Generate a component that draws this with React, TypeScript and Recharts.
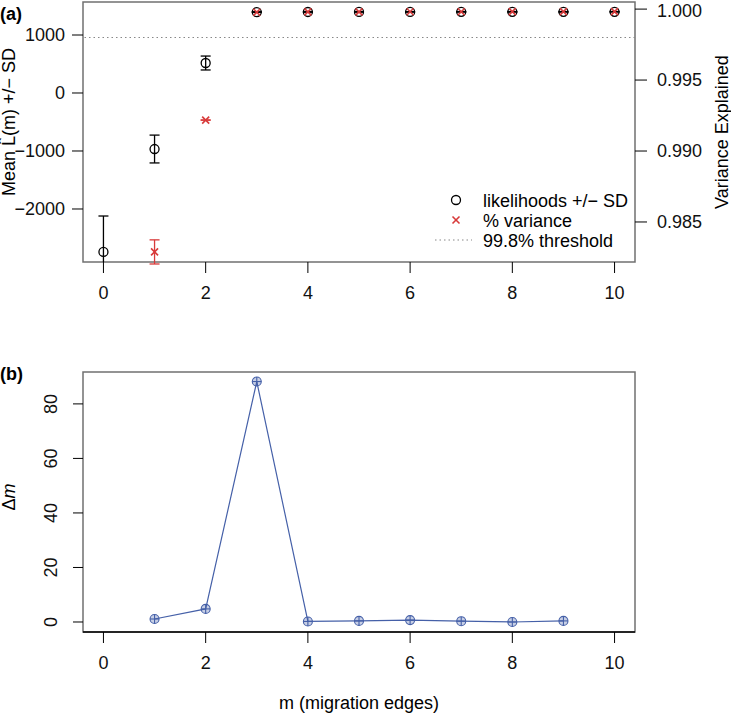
import { ComposedChart, LineChart, Line, Scatter, ErrorBar, XAxis, YAxis, ReferenceLine, ReferenceArea } from 'recharts'

// panel (a): likelihoods per number of migration edges
const mEdges = [0, 1, 2, 3, 4, 5, 6, 7, 8, 9, 10]
const likMean = [-2741, -966, 517, 1396, 1397, 1398, 1398, 1399, 1399, 1399, 1400]
const likSD = [620, 240, 120, 6, 5, 5, 5, 5, 5, 5, 5]

// variance explained (no point shown for m = 0)
const varEdges = [1, 2, 3, 4, 5, 6, 7, 8, 9, 10]
const varExplained = [0.98289, 0.99218, 0.99978, 0.9998, 0.9998, 0.99981, 0.99981, 0.99982, 0.99982, 0.99982]
const varSD = [0.00085, 0.00001, 0, 0, 0, 0, 0, 0, 0, 0]
const threshold = 0.998

// panel (b): delta m
const deltaEdges = [1, 2, 3, 4, 5, 6, 7, 8, 9]
const deltaM = [1.1, 4.8, 88.2, 0.2, 0.4, 0.7, 0.3, 0.0, 0.4]

const xTicks = [0, 2, 4, 6, 8, 10]
const likTicks = [-2000, -1000, 0, 1000]
const varTicks = [0.985, 0.99, 0.995, 1.0]
const deltaTicks = [0, 20, 40, 60, 80]

const xDomain = [-0.4, 10.4]
const likDomain = [-2914, 1569]
const varDomain = [0.98218, 1.0005]
const deltaDomain = [-3.67, 91.7]

const likData = mEdges.map((m, i) => ({ m, y: likMean[i], sd: likSD[i] }))
const varData = varEdges.map((m, i) => ({ m, y: varExplained[i], sd: varSD[i] }))
const deltaData = deltaEdges.map((m, i) => ({ m, d: deltaM[i] }))

const FONT = '"Liberation Sans", Arial, sans-serif'
const RED = '#d83a3a'
const BLUE = '#4560a8'
const BOX = '#707070'
const tickStyle = { fontSize: 18, fill: '#111', fontFamily: FONT }

const minus = (v: number) => String(v).replace('-', '\u2212')

const OpenCircle = (p: any) => (
  <circle cx={p.cx} cy={p.cy} r={4.5} fill="none" stroke="#000" strokeWidth={1.3} />
)

const RedCross = (p: any) => (
  <g stroke={RED} strokeWidth={1.6}>
    <line x1={p.cx - 3.5} y1={p.cy - 3.5} x2={p.cx + 3.5} y2={p.cy + 3.5} />
    <line x1={p.cx - 3.5} y1={p.cy + 3.5} x2={p.cx + 3.5} y2={p.cy - 3.5} />
  </g>
)

const BlueDot = (p: any) => {
  if (p.cx == null || p.cy == null) return null
  return (
    <g key={`d${p.index}`} stroke={BLUE} strokeWidth={1.1}>
      <circle cx={p.cx} cy={p.cy} r={4.5} fill="rgba(69,96,168,0.3)" />
      <line x1={p.cx - 4.5} y1={p.cy} x2={p.cx + 4.5} y2={p.cy} />
      <line x1={p.cx} y1={p.cy - 4.5} x2={p.cx} y2={p.cy + 4.5} />
    </g>
  )
}

const VerticalTick = (p: any) => (
  <text
    x={57}
    y={p.y}
    transform={`rotate(-90 57 ${p.y})`}
    textAnchor="middle"
    style={tickStyle}
  >
    {p.payload.value}
  </text>
)

export default function App() {
  return (
    <div style={{ position: 'absolute', left: 0, top: 0, width: 731, height: 716, background: '#fff', fontFamily: FONT }}>
      <svg width={0} height={0} style={{ position: 'absolute' }}>
        <defs>
          <clipPath id="plotA" clipPathUnits="userSpaceOnUse">
            <rect x={83} y={2} width={552} height={260} />
          </clipPath>
        </defs>
      </svg>
      <div style={{ position: 'absolute', left: 0, top: 0 }}>
        <ComposedChart width={731} height={310} margin={{ top: 2, right: 0, bottom: 0, left: 0 }}>
          <XAxis
            type="number"
            dataKey="m"
            domain={xDomain}
            ticks={xTicks}
            allowDataOverflow
            axisLine={false}
            tickLine={{ stroke: '#000' }}
            tickSize={11}
            tickMargin={13}
            height={48}
            tick={tickStyle}
          />
          <YAxis
            yAxisId="left"
            type="number"
            domain={likDomain}
            ticks={likTicks}
            allowDataOverflow
            axisLine={false}
            tickLine={{ stroke: '#000' }}
            tickSize={11}
            tickMargin={7}
            width={83}
            tick={tickStyle}
            tickFormatter={minus}
          />
          <YAxis
            yAxisId="right"
            orientation="right"
            type="number"
            domain={varDomain}
            ticks={varTicks}
            allowDataOverflow
            axisLine={false}
            tickLine={{ stroke: '#000' }}
            tickSize={12}
            tickMargin={10}
            width={96}
            tick={tickStyle}
            tickFormatter={(v: number) => v.toFixed(3)}
          />
          <ReferenceArea
            yAxisId="left"
            x1={xDomain[0]}
            x2={xDomain[1]}
            y1={likDomain[0]}
            y2={likDomain[1]}
            fill="none"
            stroke={BOX}
            strokeWidth={1.5}
            ifOverflow="visible"
          />
          <ReferenceLine yAxisId="right" y={threshold} stroke="#888" strokeDasharray="1.5 3" strokeWidth={1.2} />
          <Scatter yAxisId="left" data={likData} dataKey="y" shape={OpenCircle} isAnimationActive={false}>
            <ErrorBar dataKey="sd" direction="y" width={5} stroke="#000" strokeWidth={1.3} clipPath="url(#plotA)" isAnimationActive={false} />
          </Scatter>
          <Scatter yAxisId="right" data={varData} dataKey="y" shape={RedCross} isAnimationActive={false}>
            <ErrorBar dataKey="sd" direction="y" width={5} stroke={RED} strokeWidth={1.3} isAnimationActive={false} />
          </Scatter>
        </ComposedChart>
      </div>

      <div style={{ position: 'absolute', left: 0, top: 330 }}>
        <LineChart width={731} height={386} data={deltaData} margin={{ top: 42, right: 96, bottom: 0, left: 0 }}>
          <XAxis
            type="number"
            dataKey="m"
            domain={xDomain}
            ticks={xTicks}
            allowDataOverflow
            axisLine={{ stroke: '#000', strokeWidth: 1.3 }}
            tickLine={{ stroke: '#000' }}
            tickSize={11}
            tickMargin={13}
            height={84}
            tick={tickStyle}
          />
          <YAxis
            type="number"
            domain={deltaDomain}
            ticks={deltaTicks}
            allowDataOverflow
            axisLine={false}
            tickLine={{ stroke: '#000' }}
            tickSize={10}
            width={83}
            tick={VerticalTick}
          />
          <ReferenceArea
            x1={xDomain[0]}
            x2={xDomain[1]}
            y1={deltaDomain[0]}
            y2={deltaDomain[1]}
            fill="none"
            stroke={BOX}
            strokeWidth={1.5}
            ifOverflow="visible"
          />
          <Line dataKey="d" stroke={BLUE} strokeWidth={1.2} dot={BlueDot} isAnimationActive={false} />
        </LineChart>
      </div>

      <svg width={731} height={716} style={{ position: 'absolute', left: 0, top: 0, pointerEvents: 'none' }} fontFamily={FONT} fontSize={18}>
        <text x={0} y={19.5} fontWeight="bold">(a)</text>
        <text x={0} y={380} fontWeight="bold">(b)</text>
        <text x={15} y={122} transform="rotate(-90 15 122)" textAnchor="middle">Mean L̂(m) +/− SD</text>
        <text x={728} y={132} transform="rotate(-90 728 132)" textAnchor="middle">Variance Explained</text>
        <text x={15} y={497} transform="rotate(-90 15 497)" textAnchor="middle">
          Δ<tspan fontStyle="italic">m</tspan>
        </text>
        <text x={359} y={709} textAnchor="middle">m (migration edges)</text>

        <circle cx={456} cy={200} r={4.5} fill="none" stroke="#000" strokeWidth={1.3} />
        <text x={483} y={206.5}>likelihoods +/− SD</text>
        <g stroke={RED} strokeWidth={1.6}>
          <line x1={452.5} y1={216.5} x2={459.5} y2={223.5} />
          <line x1={452.5} y1={223.5} x2={459.5} y2={216.5} />
        </g>
        <text x={483} y={226.5}>% variance</text>
        <line x1={435} y1={240} x2={472} y2={240} stroke="#888" strokeDasharray="1.5 3" strokeWidth={1.2} />
        <text x={483} y={246.5}>99.8% threshold</text>
      </svg>
    </div>
  )
}
